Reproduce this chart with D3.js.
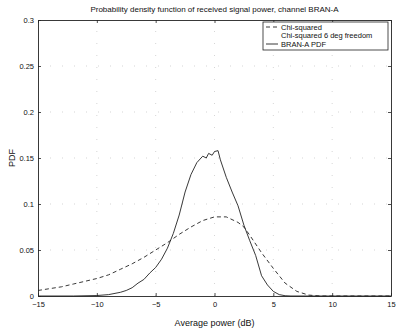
<!DOCTYPE html>
<html><head><meta charset="utf-8">
<script src="https://cdn.jsdelivr.net/npm/d3@7"></script>
<style>
html,body{margin:0;padding:0;background:#fff;}
svg{display:block;font-family:"Liberation Sans",Arial,sans-serif;}
</style></head>
<body>
<div id="chart"></div>
<script>
const title = "Probability density function of received signal power, channel BRAN-A";
const xLabel = "Average power (dB)";
const yLabel = "PDF";
const xTicks = [-15, -10, -5, 0, 5, 10, 15];
const yTicks = [0, 0.05, 0.1, 0.15, 0.2, 0.25, 0.3];
const legendLabels = ["Chi-squared", "Chi-squared 6 deg freedom", "BRAN-A PDF"];

const chiX = [-15,-14,-13,-12,-11,-10,-9,-8,-7,-6,-5,-4,-3,-2,-1,0,1,2,2.5,3,4,5,6,7,8,9,10,15];
const chiY = [0.006,0.008,0.010,0.013,0.016,0.019,0.023,0.029,0.035,0.042,0.050,0.058,0.067,0.075,0.082,0.086,0.086,0.080,0.075,0.066,0.047,0.030,0.014,0.005,0.001,0,0,0];

const branX = [-15,-12,-10,-9,-8,-7.5,-7,-6.5,-6,-5.5,-5,-4.5,-4,-3.5,-3,-2.5,-2,-1.5,-1,-0.7,-0.5,-0.2,0,0.3,0.5,1,1.5,2,2.5,3,3.5,4,4.5,5,5.5,6,6.5,15];
const branY = [0,0,0.0005,0.0015,0.004,0.006,0.009,0.014,0.018,0.025,0.031,0.040,0.052,0.068,0.088,0.113,0.132,0.145,0.152,0.150,0.155,0.153,0.157,0.158,0.148,0.129,0.113,0.098,0.077,0.060,0.044,0.022,0.012,0.005,0.0015,0.0003,0,0];

const W = 396, H = 329;
const m = {left: 38, right: 5, top: 20, bottom: 33};
const svg = d3.select("#chart").append("svg").attr("width", W).attr("height", H);
const x = d3.scaleLinear().domain([-15, 15]).range([m.left, W - m.right]);
const y = d3.scaleLinear().domain([0, 0.3]).range([H - m.bottom, m.top]);

// dotted grid
const g = svg.append("g").attr("stroke", "#bbb").attr("stroke-width", 0.6).attr("stroke-dasharray", "1,11");
xTicks.slice(1, -1).forEach(t => g.append("line").attr("x1", x(t)).attr("x2", x(t)).attr("y1", y(0)).attr("y2", y(0.3)));
yTicks.slice(1, -1).forEach(t => g.append("line").attr("x1", x(-15)).attr("x2", x(15)).attr("y1", y(t)).attr("y2", y(t)));

// axes
svg.append("g").attr("transform", `translate(0,${y(0)})`)
  .call(d3.axisBottom(x).tickValues(xTicks).tickSizeInner(-3).tickSizeOuter(0).tickPadding(6).tickFormat(d => d < 0 ? "\u2212" + Math.abs(d) : d));
svg.append("g").attr("transform", `translate(${x(-15)},0)`)
  .call(d3.axisLeft(y).tickValues(yTicks).tickSizeInner(-3).tickSizeOuter(0).tickPadding(4).tickFormat(d => String(d)));
svg.append("g").attr("transform", `translate(0,${y(0.3)})`)
  .call(d3.axisTop(x).tickValues(xTicks).tickSizeInner(-3).tickSizeOuter(0).tickFormat(""));
svg.append("g").attr("transform", `translate(${x(15)},0)`)
  .call(d3.axisRight(y).tickValues(yTicks).tickSizeInner(-3).tickSizeOuter(0).tickFormat(""));
svg.selectAll(".domain").attr("stroke", "#222").attr("stroke-width", 0.9);
svg.selectAll(".tick line").attr("stroke", "#222").attr("stroke-width", 0.8);
svg.selectAll(".tick text").attr("font-size", 7.5).attr("fill", "#111").attr("font-family", "Liberation Sans, Arial, sans-serif");

// curves
const line = d3.line().x(d => x(d[0])).y(d => y(d[1]));
svg.append("path").datum(chiX.map((v, i) => [v, chiY[i]]))
  .attr("d", line).attr("fill", "none").attr("stroke", "#222").attr("stroke-width", 0.9).attr("stroke-dasharray", "4,3");
svg.append("path").datum(branX.map((v, i) => [v, branY[i]]))
  .attr("d", line).attr("fill", "none").attr("stroke", "#222").attr("stroke-width", 0.9);

// title & labels
svg.append("text").attr("x", (x(-15) + x(15)) / 2).attr("y", 12).attr("text-anchor", "middle")
  .attr("font-size", 8).attr("fill", "#111").text(title);
svg.append("text").attr("x", (x(-15) + x(15)) / 2).attr("y", 326).attr("text-anchor", "middle")
  .attr("font-size", 9).attr("fill", "#111").text(xLabel);
svg.append("text").attr("transform", `translate(15,${(y(0) + y(0.3)) / 2}) rotate(-90)`).attr("text-anchor", "middle")
  .attr("font-size", 9).attr("fill", "#111").text(yLabel);

// legend
const lg = svg.append("g");
lg.append("rect").attr("x", 263).attr("y", 22).attr("width", 125).attr("height", 28)
  .attr("fill", "#fff").attr("stroke", "#222").attr("stroke-width", 0.8);
const rowsY = [29.5, 38, 46.5];
const dashes = ["4,3", null, null];
legendLabels.forEach((lab, i) => {
  if (i !== 1) {
    const l = lg.append("line").attr("x1", 266).attr("x2", 278).attr("y1", rowsY[i] - 2.5).attr("y2", rowsY[i] - 2.5)
      .attr("stroke", "#222").attr("stroke-width", 0.9);
    if (dashes[i]) l.attr("stroke-dasharray", dashes[i]);
  }
  lg.append("text").attr("x", 281).attr("y", rowsY[i]).attr("font-size", 7.5).attr("fill", "#111").text(lab);
});
</script>
</body></html>
